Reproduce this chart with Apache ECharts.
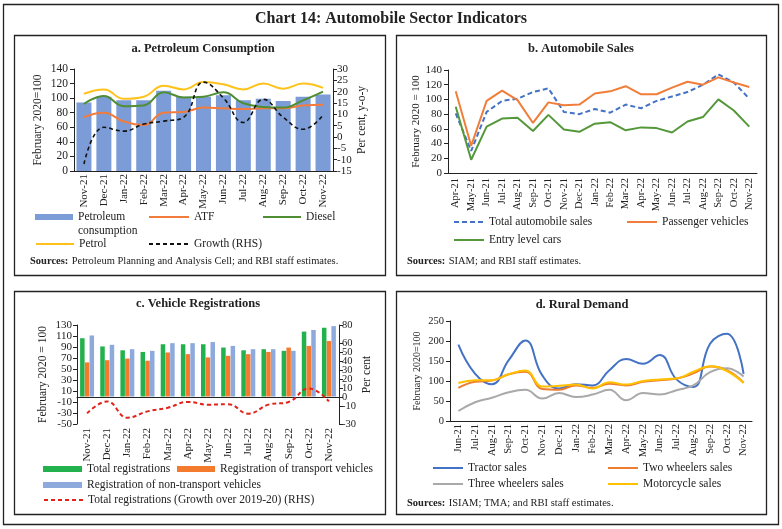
<!DOCTYPE html>
<html><head><meta charset="utf-8">
<script src="https://cdn.jsdelivr.net/npm/echarts@6/dist/echarts.min.js"></script>
<style>html,body{margin:0;padding:0;background:#fff}#c{width:782px;height:529px}</style>
</head><body><div id="c"></div>
<script>
const FONT = 'Liberation Serif';
const TXT = '#222';
// ---- Panel a: Petroleum Consumption ----
const catsA = ['Nov-21','Dec-21','Jan-22','Feb-22','Mar-22','Apr-22','May-22','Jun-22','Jul-22','Aug-22','Sep-22','Oct-22','Nov-22'];
const petroleum = [94,102,97,97,110,102,102,104,97,99,96,102,105];
const atf = [74,80,68,63,80,81,87,86,85,86,86,90,91];
const diesel = [92,103,89,90,108,101,102,108,93,88,87,97,109];
const petrol = [106,112,99,102,117,112,122,119,112,120,113,120,114];
const growthA = [-11.9,4.3,2.6,5.7,7,8.7,24.2,17.2,6.4,16.6,8.7,3.4,9.7];
const ticksALeft = [0,20,40,60,80,100,120,140];
const ticksARight = [-15,-10,-5,0,5,10,15,20,25,30];
// ---- Panel b: Automobile Sales ----
const catsB = ['Apr-21','May-21','Jun-21','Jul-21','Aug-21','Sep-21','Oct-21','Nov-21','Dec-21','Jan-22','Feb-22','Mar-22','Apr-22','May-22','Jun-22','Jul-22','Aug-22','Sep-22','Oct-22','Nov-22'];
const totalAuto = [81,30,83,98,101,110,115,83,80,87,82,93,88,98,104,110,120,134,123,101];
const passenger = [111,37,98,112,99,68,96,92,93,108,111,118,107,107,116,124,120,130,123,117];
const entryCars = [90,18,63,74,75,57,79,59,56,67,69,58,62,61,55,70,76,100,85,63];
const ticksB = [0,20,40,60,80,100,120,140];
// ---- Panel c: Vehicle Registrations ----
const catsC = ['Nov-21','Dec-21','Jan-22','Feb-22','Mar-22','Apr-22','May-22','Jun-22','Jul-22','Aug-22','Sep-22','Oct-22','Nov-22'];
const totalReg = [106,91,84,81,95,95,95,89,84,86,83,118,125];
const transportReg = [62,66,69,65,80,77,71,74,77,81,89,92,101];
const nonTransportReg = [111,94,86,83,97,97,99,92,86,86,83,121,128];
const growthC = [-18,-5,-23,-16,-12,-5.5,-8.5,-8,-18.5,-8.5,-5.5,9.5,-4.9];
const ticksCLeft = [-50,-30,-10,10,30,50,70,90,110,130];
const ticksCRight = [-30,-20,-10,0,10,20,30,40,50,60,70,80];
// ---- Panel d: Rural Demand ----
const catsD = ['Jun-21','Jul-21','Aug-21','Sep-21','Oct-21','Nov-21','Dec-21','Jan-22','Feb-22','Mar-22','Apr-22','May-22','Jun-22','Jul-22','Aug-22','Sep-22','Oct-22','Nov-22'];
const tractor = [191,118,92,152,201,114,81,92,89,127,155,143,165,104,85,193,218,118];
const twoWheel = [83,98,101,117,123,80,78,89,83,93,89,98,102,106,119,136,127,96];
const threeWheel = [25,47,58,72,78,56,70,60,66,78,52,70,66,77,89,122,132,111];
const motorcycle = [95,102,102,117,126,86,88,91,81,97,91,100,104,106,123,137,125,95];
const ticksD = [0,50,100,150,200,250];

const lbl = (fs, extra) => Object.assign({fontFamily: FONT, fontSize: fs, color: TXT}, extra || {});
const line = {lineStyle: {color: TXT, width: 1}};
function catAxis(grid, data, fs, margin, extra) {
  return Object.assign({type: 'category', gridIndex: grid, data: data, boundaryGap: true,
    axisLine: Object.assign({onZero: false}, line), axisTick: {length: 5, lineStyle: {color: TXT}},
    axisLabel: lbl(fs, {rotate: 90, margin: margin, interval: 0}), splitLine: {show: false}}, extra || {});
}
function valAxis(grid, min, max, ticks, fs, pos, margin, name, nameGap, nfs) {
  return {type: 'value', gridIndex: grid, min: min, max: max, position: pos,
    axisLine: Object.assign({show: true}, line),
    axisTick: {show: true, length: 4, lineStyle: {color: TXT}, customValues: ticks},
    axisLabel: lbl(fs, {margin: margin, customValues: ticks, showMinLabel: true, showMaxLabel: true, hideOverlap: false}),
    splitLine: {show: false},
    name: name, nameLocation: 'middle', nameGap: nameGap, nameRotate: 90, nameTextStyle: lbl(nfs)};
}
function ln(name, data, color, x, y, opts) {
  return Object.assign({type: 'line', name: name, data: data, xAxisIndex: x, yAxisIndex: y, symbol: 'none',
    lineStyle: {color: color, width: 2}, itemStyle: {color: color}, z: 3}, opts || {});
}
function bar(name, data, color, x, y, opts) {
  return Object.assign({type: 'bar', name: name, data: data, xAxisIndex: x, yAxisIndex: y,
    itemStyle: {color: color}}, opts || {});
}
function lg(name, left, cy, w, h, icon, fs, fmt) {
  const o = {data: [name], left: left, top: cy - 7, itemWidth: w, itemHeight: h, padding: 0,
    textStyle: lbl(fs), selectedMode: false};
  if (icon) o.icon = icon; else o.itemStyle = {opacity: 0};
  if (fmt) o.formatter = fmt;
  return o;
}
function txt(text, x, y, font, align) {
  return {type: 'text', x: x, y: y, silent: true, style: {text: text, font: font, fill: TXT, align: align || 'center', verticalAlign: 'middle'}};
}
function src(text, x, y) {
  return {type: 'text', x: x, y: y, silent: true, style: {text: '{b|Sources:} {r|' + text + '}', fill: TXT, align: 'left', verticalAlign: 'middle',
    rich: {b: {fontFamily: FONT, fontSize: 10.5, fontWeight: 'bold', fill: TXT}, r: {fontFamily: FONT, fontSize: 10.5, fill: TXT}}}};
}
function box(x, y, w, h) {
  return {type: 'rect', silent: true, shape: {x: x, y: y, width: w, height: h}, style: {fill: 'none', stroke: '#222', lineWidth: 1.3}};
}

const option = {
  backgroundColor: '#fff',
  animation: false,
  grid: [
    {left: 74, top: 69, width: 259, height: 102},
    {left: 448, top: 70, width: 309, height: 103},
    {left: 77, top: 325, width: 262, height: 99},
    {left: 450, top: 321, width: 302, height: 100}
  ],
  xAxis: [
    catAxis(0, catsA, 11, 3),
    catAxis(1, catsB, 10.5, 5),
    catAxis(2, catsC, 11, 4, {axisLine: {show: false}, axisTick: {show: false}}),
    catAxis(2, catsC, 11, 4, {axisLine: Object.assign({onZero: true}, line), axisTick: {show: false}, axisLabel: {show: false}}),
    catAxis(3, catsD, 10.5, 3)
  ],
  yAxis: [
    valAxis(0, 0, 140, ticksALeft, 11.5, 'left', 6, 'February 2020=100', 30, 11.5),
    valAxis(0, -15, 30, ticksARight, 11, 'right', 4, 'Per cent, y-o-y', 23, 11.5),
    valAxis(1, 0, 140, ticksB, 11, 'left', 6, 'February 2020 = 100', 26, 11),
    valAxis(2, -50, 130, ticksCLeft, 11, 'left', 5, 'February 2020 = 100', 28, 11.5),
    valAxis(2, -30, 80, ticksCRight, 10.5, 'right', 3, 'Per cent', 22, 11.5),
    valAxis(3, 0, 250, ticksD, 10.5, 'left', 6, 'February 2020=100', 28, 10)
  ],
  legend: [
    lg('Petroleum consumption', 35, 218, 38, 6, 'rect', 11.5, () => 'Petroleum'),
    lg('ATF', 148, 218, 40, 10, null, 11.5),
    lg('Diesel', 262, 218, 38, 10, null, 11.5),
    lg('Petrol', 35, 245, 38, 10, null, 11.5),
    lg('Growth (RHS)', 148, 245, 40, 10, null, 11.5),
    lg('Total automobile sales', 453, 223, 30, 10, null, 11.5),
    lg('Passenger vehicles', 626, 223, 30, 10, null, 11.5),
    lg('Entry level cars', 453, 241, 30, 10, null, 11.5),
    lg('Total registrations', 43, 470, 39, 6, 'rect', 11.5),
    lg('Registration of transport vehicles', 177, 470, 38, 6, 'rect', 11.5),
    lg('Registration of non-transport vehicles', 43, 486, 39, 6, 'rect', 11.5),
    lg('Total registrations (Growth over 2019-20) (RHS)', 43, 501, 39, 10, null, 11.5),
    lg('Tractor sales', 432, 469, 30, 10, null, 11.5),
    lg('Two wheelers sales', 607, 469, 30, 10, null, 11.5),
    lg('Three wheelers sales', 432, 485, 30, 10, null, 11.5),
    lg('Motorcycle sales', 607, 485, 30, 10, null, 11.5)
  ],
  series: [
    bar('Petroleum consumption', petroleum, '#7b9cd6', 0, 0, {barWidth: 15}),
    ln('ATF', atf, '#f37b3b', 0, 0, {smooth: 0.45}),
    ln('Diesel', diesel, '#4f8e33', 0, 0, {smooth: 0.45}),
    ln('Petrol', petrol, '#ffc21a', 0, 0, {smooth: 0.45}),
    ln('Growth (RHS)', growthA, '#111', 0, 1, {smooth: 0.45, lineStyle: {color: '#111', width: 1.6, type: [4, 3]}}),

    ln('Total automobile sales', totalAuto, '#4472c4', 1, 2, {lineStyle: {color: '#4472c4', width: 2, type: [5, 3]}}),
    ln('Passenger vehicles', passenger, '#f07e3a', 1, 2),
    ln('Entry level cars', entryCars, '#55983a', 1, 2),

    bar('Total registrations', totalReg, '#22b14c', 2, 3, {barWidth: 4.5, barGap: '5%'}),
    bar('Registration of transport vehicles', transportReg, '#f47a2e', 2, 3, {barWidth: 4.5, barGap: '5%'}),
    bar('Registration of non-transport vehicles', nonTransportReg, '#8eaadc', 2, 3, {barWidth: 4.5, barGap: '5%'}),
    ln('Total registrations (Growth over 2019-20) (RHS)',
      growthC.map((v, i) => i === growthC.length - 1 ? {value: v, label: {show: true, position: 'bottom', distance: 5, formatter: '{c}', fontFamily: FONT, fontSize: 11, color: TXT}} : v),
      '#e2231a', 2, 4, {smooth: 0.45, lineStyle: {color: '#e2231a', width: 2, type: [4, 3]}}),

    ln('Tractor sales', tractor, '#4472c4', 4, 5, {smooth: 0.45}),
    ln('Two wheelers sales', twoWheel, '#ed7d31', 4, 5, {smooth: 0.45}),
    ln('Three wheelers sales', threeWheel, '#a9a9a9', 4, 5, {smooth: 0.45}),
    ln('Motorcycle sales', motorcycle, '#ffc000', 4, 5, {smooth: 0.45})
  ],
  graphic: [
    box(3.5, 4.5, 775, 520),
    box(14.5, 35.5, 371, 240),
    box(396.5, 35.5, 370, 240),
    box(14.5, 291.5, 371, 223),
    box(396.5, 291.5, 370, 223),
    txt('Chart 14: Automobile Sector Indicators', 391, 19, 'bold 16px "Liberation Serif"'),
    txt('a. Petroleum Consumption', 203, 49, 'bold 12.5px "Liberation Serif"'),
    txt('b. Automobile Sales', 581, 49, 'bold 12.5px "Liberation Serif"'),
    txt('c. Vehicle Registrations', 198, 304, 'bold 12.5px "Liberation Serif"'),
    txt('d. Rural Demand', 582, 305, 'bold 12.5px "Liberation Serif"'),
    txt('consumption', 78, 231, '11.5px "Liberation Serif"', 'left'),
    src('Petroleum Planning and Analysis Cell; and RBI staff estimates.', 30, 261),
    src('SIAM; and RBI staff estimates.', 407, 261),
    src('ISIAM; TMA; and RBI staff estimates.', 407, 503)
  ]
};
const chart = echarts.init(document.getElementById('c'), null, {renderer: 'canvas'});
chart.setOption(option);
</script></body></html>
